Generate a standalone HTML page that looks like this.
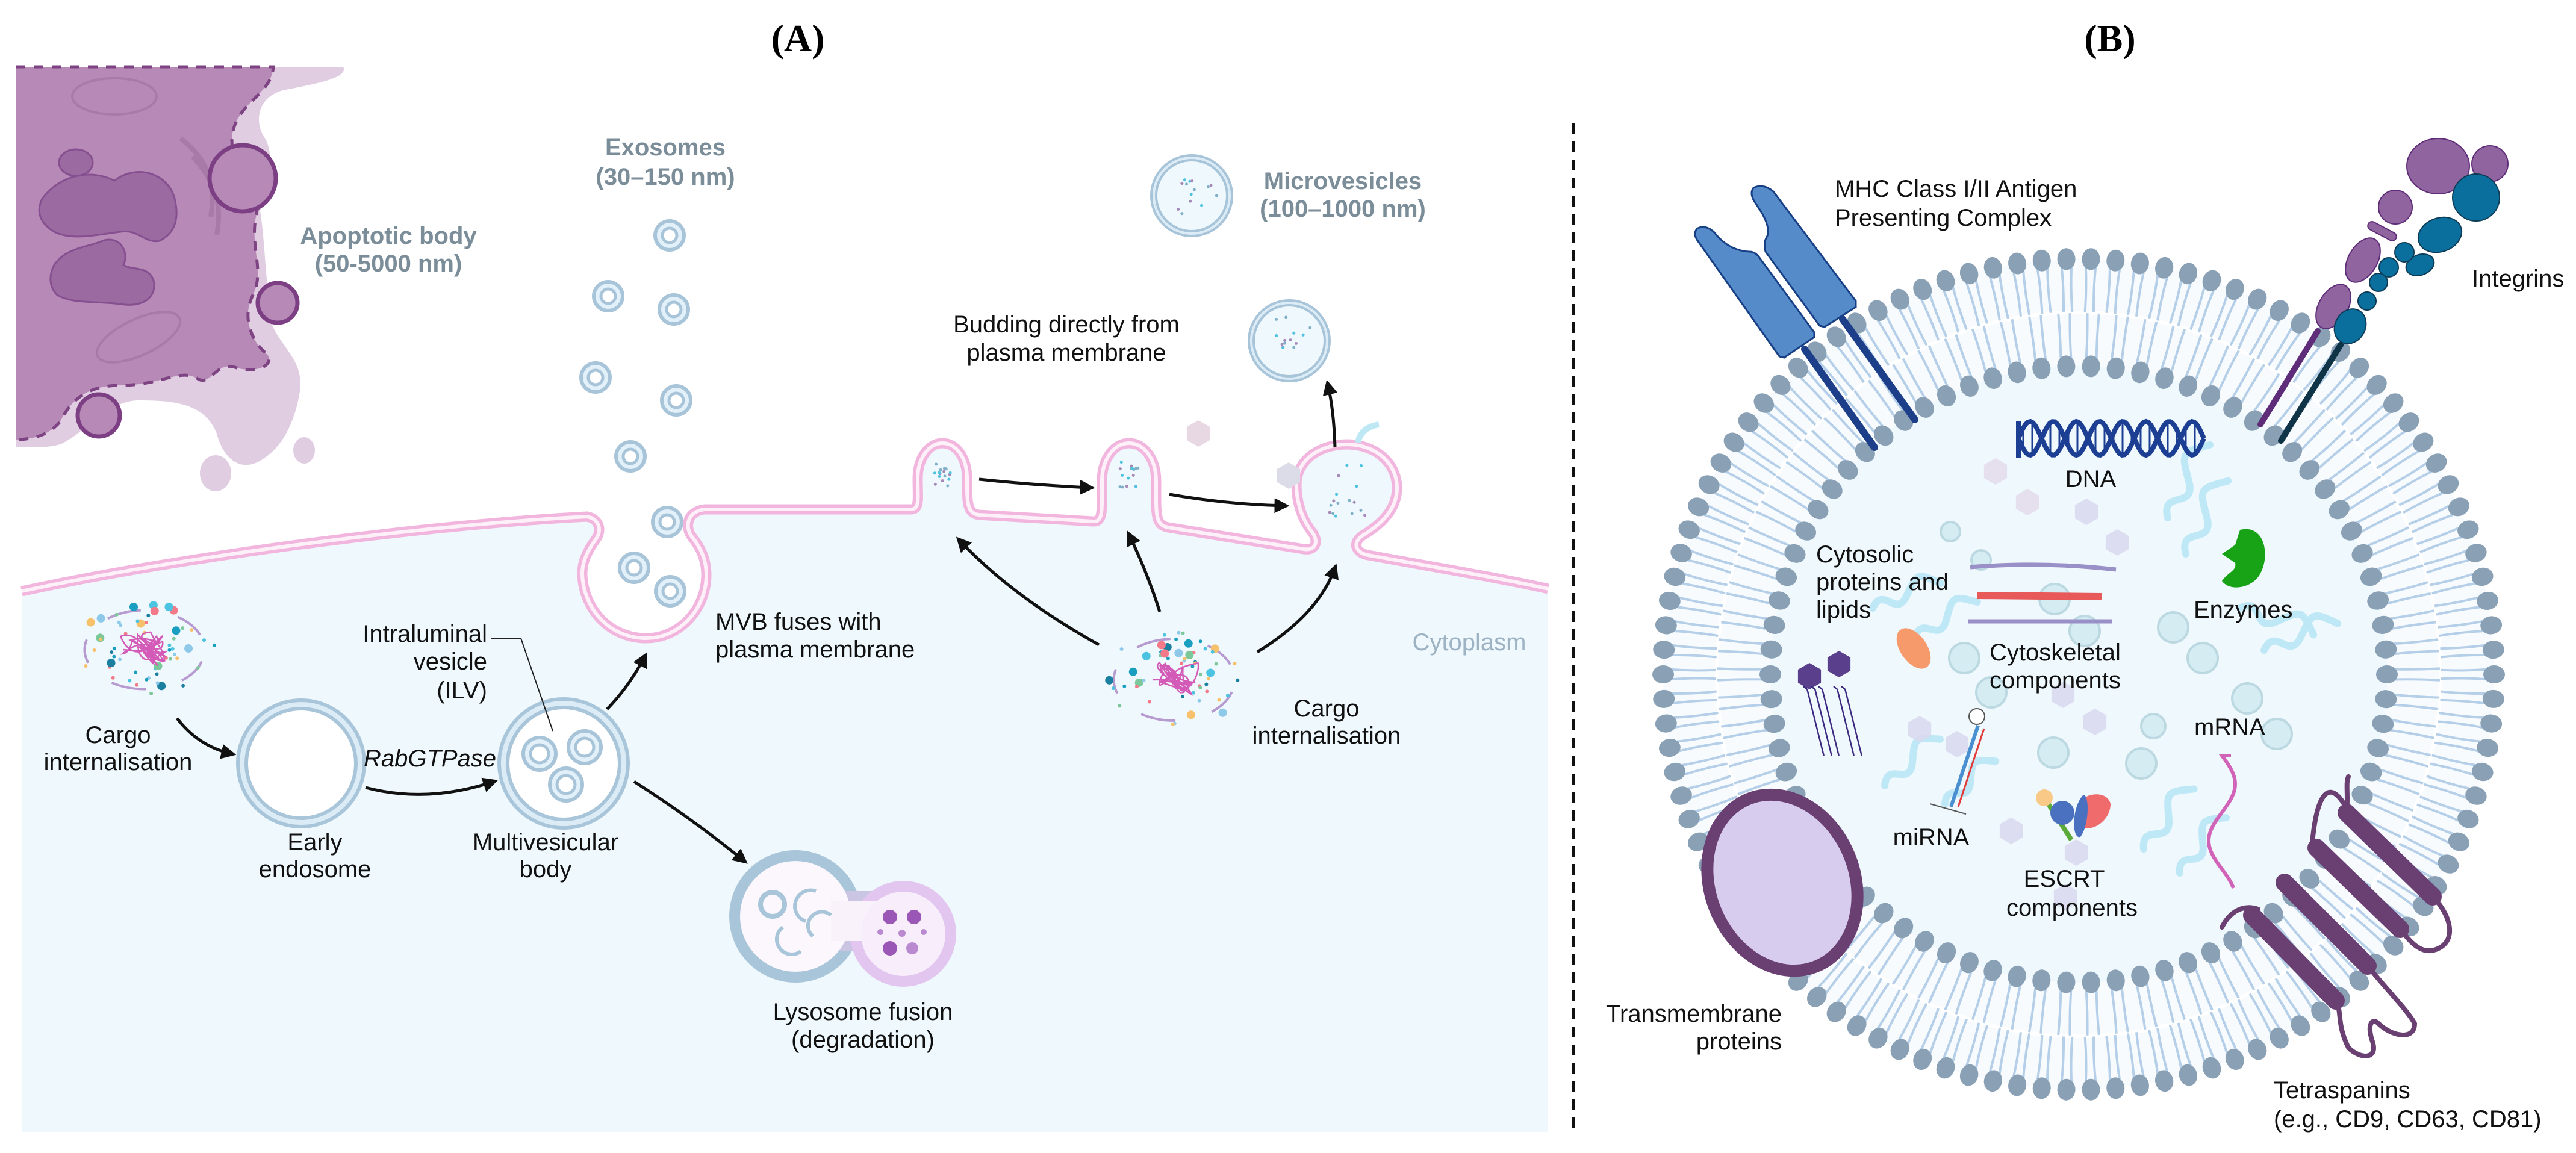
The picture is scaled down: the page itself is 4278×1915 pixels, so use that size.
<!DOCTYPE html>
<html><head><meta charset="utf-8">
<style>
html,body{margin:0;padding:0;background:#fff;}
svg{display:block;}
text{font-family:"Liberation Sans",Arial,sans-serif;}
</style></head>
<body>
<svg id="s" xmlns="http://www.w3.org/2000/svg" width="4278" height="1915" viewBox="0 0 4278 1915">
<defs>
<marker id="ah" viewBox="0 0 10 10" refX="7" refY="5" markerWidth="5" markerHeight="5" orient="auto" markerUnits="strokeWidth">
<path d="M0,0 L10,5 L0,10 Z" fill="#111"/></marker>
</defs>
<rect width="4278" height="1915" fill="#fff"/>
<text x="1325" y="85" font-weight="bold" font-size="64" text-anchor="middle" style="font-family:'Liberation Serif',serif">(A)</text>
<text x="3504" y="85" font-weight="bold" font-size="64" text-anchor="middle" style="font-family:'Liberation Serif',serif">(B)</text>
<line x1="2613" y1="205" x2="2613" y2="1885" stroke="#111" stroke-width="6" stroke-dasharray="18,12"/>

<!-- Apoptotic body -->
<path d="M26 111 L570 111 C580 130 520 140 470 150 C430 160 420 200 440 230 C460 260 440 330 432 350 C440 400 440 460 452 540 C470 580 505 600 498 650 C490 700 470 740 440 760 C400 790 370 760 360 720 C340 670 290 665 230 665 C180 665 140 720 100 738 C70 746 40 742 26 742 Z" fill="#e0cde2"/>
<ellipse cx="358" cy="786" rx="26" ry="30" fill="#e0cde2"/>
<ellipse cx="505" cy="748" rx="18" ry="22" fill="#e0cde2"/>
<path d="M26 111 L454 111 C450 160 390 170 385 230 C383 280 440 300 425 360 C415 410 440 450 420 490 C400 530 420 570 445 590 C455 610 420 620 390 610 C360 600 350 640 330 630 C300 610 270 640 200 640 C150 640 120 660 100 700 C80 725 50 730 26 730 Z" fill="#b689b6"/>
<path d="M26 111 L454 111 C450 160 390 170 385 230 C383 280 440 300 425 360 C415 410 440 450 420 490 C400 530 420 570 445 590 C455 610 420 620 390 610 C360 600 350 640 330 630 C300 610 270 640 200 640 C150 640 120 660 100 700 C80 725 50 730 26 730" fill="none" stroke="#7d4382" stroke-width="5" stroke-dasharray="16,14"/>
<path d="M70 330 C100 290 150 280 190 300 C230 270 280 290 290 330 C300 370 285 390 265 400 C240 405 230 380 200 385 C160 390 120 400 90 385 C65 370 60 350 70 330 Z" fill="#9a6aa0" stroke="#865090" stroke-width="3"/>
<path d="M90 440 C110 410 150 410 170 400 C200 390 215 420 205 440 C220 450 250 440 256 470 C258 500 230 510 200 505 C160 500 120 505 95 490 C80 475 82 455 90 440 Z" fill="#9a6aa0" stroke="#865090" stroke-width="3"/>
<ellipse cx="126" cy="270" rx="28" ry="22" fill="#9a6aa0" stroke="#865090" stroke-width="3"/>
<ellipse cx="190" cy="160" rx="70" ry="30" fill="none" stroke="#a77aa8" stroke-width="4"/>
<ellipse cx="230" cy="560" rx="75" ry="30" transform="rotate(-25 230 560)" fill="none" stroke="#a77aa8" stroke-width="4"/>
<path d="M300 230 C340 260 360 300 350 360" fill="none" stroke="#a77aa8" stroke-width="8"/>
<path d="M320 260 C355 300 370 330 360 390" fill="none" stroke="#a77aa8" stroke-width="8"/>
<circle cx="403" cy="296" r="55" fill="#b689b6" stroke="#7d3f83" stroke-width="7"/>
<circle cx="461" cy="503" r="33" fill="#b689b6" stroke="#7d3f83" stroke-width="7"/>
<circle cx="164" cy="690" r="35" fill="#b689b6" stroke="#7d3f83" stroke-width="7"/>

<!-- Cytoplasm -->
<path d="M36 982 C300 925 700 872 975 858 C995 862 1000 880 990 895 C975 915 966 935 967 955 C970 1015 1015 1060 1073 1060 C1130 1060 1173 1010 1173 955 C1173 925 1160 905 1148 890 C1138 875 1140 850 1170 846 L1512 846 C1528 846 1524 830 1524 795 C1524 760 1543 736 1565 736 C1588 736 1606 760 1606 795 C1606 835 1606 852 1625 855 L1815 866 C1832 867 1830 850 1830 800 C1830 762 1850 736 1875 736 C1900 736 1920 762 1920 800 C1920 855 1918 872 1940 876 L2165 912 C2185 915 2190 900 2180 885 C2160 860 2153 830 2153 805 C2153 765 2190 738 2237 738 C2285 738 2320 770 2320 810 C2320 845 2295 870 2265 888 C2245 900 2250 918 2272 922 C2400 945 2500 962 2571 978 L2571 1880 L36 1880 Z" fill="#eef8fd"/>
<path d="M36 982 C300 925 700 872 975 858 C995 862 1000 880 990 895 C975 915 966 935 967 955 C970 1015 1015 1060 1073 1060 C1130 1060 1173 1010 1173 955 C1173 925 1160 905 1148 890 C1138 875 1140 850 1170 846 L1512 846 C1528 846 1524 830 1524 795 C1524 760 1543 736 1565 736 C1588 736 1606 760 1606 795 C1606 835 1606 852 1625 855 L1815 866 C1832 867 1830 850 1830 800 C1830 762 1850 736 1875 736 C1900 736 1920 762 1920 800 C1920 855 1918 872 1940 876 L2165 912 C2185 915 2190 900 2180 885 C2160 860 2153 830 2153 805 C2153 765 2190 738 2237 738 C2285 738 2320 770 2320 810 C2320 845 2295 870 2265 888 C2245 900 2250 918 2272 922 C2400 945 2500 962 2571 978" fill="none" stroke="#f2b6de" stroke-width="17"/>
<path d="M36 982 C300 925 700 872 975 858 C995 862 1000 880 990 895 C975 915 966 935 967 955 C970 1015 1015 1060 1073 1060 C1130 1060 1173 1010 1173 955 C1173 925 1160 905 1148 890 C1138 875 1140 850 1170 846 L1512 846 C1528 846 1524 830 1524 795 C1524 760 1543 736 1565 736 C1588 736 1606 760 1606 795 C1606 835 1606 852 1625 855 L1815 866 C1832 867 1830 850 1830 800 C1830 762 1850 736 1875 736 C1900 736 1920 762 1920 800 C1920 855 1918 872 1940 876 L2165 912 C2185 915 2190 900 2180 885 C2160 860 2153 830 2153 805 C2153 765 2190 738 2237 738 C2285 738 2320 770 2320 810 C2320 845 2295 870 2265 888 C2245 900 2250 918 2272 922 C2400 945 2500 962 2571 978" fill="none" stroke="#fdf0f8" stroke-width="6"/>

<!-- Early endosome -->
<circle cx="500" cy="1268" r="98" fill="#fff" stroke="#a9c5da" stroke-width="20"/>
<circle cx="500" cy="1268" r="98" fill="none" stroke="#dcecf7" stroke-width="8"/>
<!-- MVB -->
<circle cx="936" cy="1268" r="100" fill="#fff" stroke="#a9c5da" stroke-width="20"/>
<circle cx="936" cy="1268" r="100" fill="none" stroke="#dcecf7" stroke-width="8"/>

<g id="gen"></g>

<!-- Lysosome -->
<circle cx="1321" cy="1522" r="110" fill="#a9c5da"/>
<rect x="1370" y="1480" width="120" height="100" fill="#c9c5e2"/>
<circle cx="1500" cy="1551" r="88" fill="#e2c6ef"/>
<circle cx="1321" cy="1522" r="92" fill="#fbf7fd"/>
<rect x="1380" y="1497" width="110" height="66" fill="#f9f2fb"/>
<circle cx="1500" cy="1551" r="70" fill="#f8eefb"/>
<circle cx="1283" cy="1502" r="20" fill="none" stroke="#a9c5da" stroke-width="8"/>
<path d="M1355 1480 A22 22 0 1 0 1338 1530" fill="none" stroke="#a9c5da" stroke-width="6"/>
<path d="M1300 1540 A25 25 0 1 0 1330 1580" fill="none" stroke="#a9c5da" stroke-width="6"/>
<path d="M1380 1520 A20 20 0 0 0 1350 1555" fill="none" stroke="#a9c5da" stroke-width="6"/>
<circle cx="1478" cy="1523" r="12" fill="#9b57b5"/><circle cx="1518" cy="1523" r="12" fill="#9b57b5"/>
<circle cx="1478" cy="1575" r="12" fill="#9b57b5"/><circle cx="1515" cy="1575" r="10" fill="#b98ad0"/>
<circle cx="1498" cy="1550" r="6" fill="#b98ad0"/><circle cx="1462" cy="1548" r="5" fill="#b98ad0"/><circle cx="1534" cy="1548" r="5" fill="#b98ad0"/>

<!-- Arrows panel A -->
<g fill="none" stroke="#111" stroke-width="5" marker-end="url(#ah)">
<path d="M294 1193 Q330 1240 385 1252"/>
<path d="M607 1308 Q710 1335 820 1298"/>
<path d="M1008 1178 Q1045 1140 1071 1090"/>
<path d="M1053 1298 Q1150 1360 1236 1430"/>
<path d="M1626 796 Q1720 806 1811 810"/>
<path d="M1942 821 Q2040 838 2134 840"/>
<path d="M2217 742 Q2215 680 2205 638"/>
<path d="M1825 1071 Q1680 990 1593 897"/>
<path d="M1926 1016 Q1905 950 1875 888"/>
<path d="M2088 1083 Q2190 1020 2217 943"/>
</g>
<polyline points="816,1060 865,1060 918,1214" fill="none" stroke="#222" stroke-width="2"/>

<!-- Panel A texts -->
<g font-size="40" fill="#111">
<text x="196" y="1234" text-anchor="middle">Cargo</text>
<text x="196" y="1279" text-anchor="middle">internalisation</text>
<text x="523" y="1412" text-anchor="middle">Early</text>
<text x="523" y="1457" text-anchor="middle">endosome</text>
<text x="906" y="1412" text-anchor="middle">Multivesicular</text>
<text x="906" y="1457" text-anchor="middle">body</text>
<text x="714" y="1273" text-anchor="middle" font-style="italic">RabGTPase</text>
<text x="809" y="1066" text-anchor="end">Intraluminal</text>
<text x="809" y="1112" text-anchor="end">vesicle</text>
<text x="809" y="1160" text-anchor="end">(ILV)</text>
<text x="1188" y="1046">MVB fuses with</text>
<text x="1188" y="1092">plasma membrane</text>
<text x="1433" y="1694" text-anchor="middle">Lysosome fusion</text>
<text x="1433" y="1740" text-anchor="middle">(degradation)</text>
<text x="1771" y="552" text-anchor="middle">Budding directly from</text>
<text x="1771" y="599" text-anchor="middle">plasma membrane</text>
<text x="2203" y="1190" text-anchor="middle">Cargo</text>
<text x="2203" y="1235" text-anchor="middle">internalisation</text>
<text x="2440" y="1080" text-anchor="middle" fill="#9db3c4">Cytoplasm</text>
</g>
<g font-size="40" fill="#7a8d99" font-weight="bold" text-anchor="middle">
<text x="645" y="405">Apoptotic body</text>
<text x="645" y="451">(50-5000 nm)</text>
<text x="1105" y="258">Exosomes</text>
<text x="1105" y="307">(30–150 nm)</text>
<text x="2230" y="314">Microvesicles</text>
<text x="2230" y="360">(100–1000 nm)</text>
</g>

<!-- Panel B -->
<g id="ves"></g>
<g id="vesin"></g>

<!-- MHC -->
<line x1="2997" y1="580" x2="3113" y2="743" stroke="#1d3f8a" stroke-width="12" stroke-linecap="round"/>
<line x1="3060" y1="530" x2="3180" y2="697" stroke="#1d3f8a" stroke-width="12" stroke-linecap="round"/>
<path d="M2818 380 Q2832 372 2847 386 Q2870 416 2905 418 Q2915 418 2922 428 L3013 552 L3013 560 L2963 594 L2955 592 L2818 398 Q2812 388 2818 380 Z" fill="#568bc9" stroke="#173f85" stroke-width="3"/>
<path d="M2912 312 Q2928 304 2945 318 L3082 500 L3082 510 L3030 543 L3022 541 L2932 418 Q2928 402 2935 392 Q2940 378 2925 352 L2912 332 Q2906 320 2912 312 Z" fill="#568bc9" stroke="#173f85" stroke-width="3"/>

<!-- Integrins -->
<line x1="3849" y1="550" x2="3754" y2="705" stroke="#5e2c78" stroke-width="10" stroke-linecap="round"/>
<line x1="3887" y1="573" x2="3788" y2="732" stroke="#0f3347" stroke-width="10" stroke-linecap="round"/>
<g stroke="#5e2c78" stroke-width="2" fill="#8f649f">
<ellipse cx="4049" cy="276" rx="52" ry="46"/>
<circle cx="4135" cy="272" r="30"/>
<circle cx="3978" cy="344" r="28"/>
<rect x="3930" y="377" width="52" height="14" rx="7" transform="rotate(28 3956 384)"/>
<ellipse cx="3924" cy="432" rx="24" ry="40" transform="rotate(30 3924 432)"/>
<ellipse cx="3875" cy="509" rx="24" ry="40" transform="rotate(30 3875 509)"/>
</g>
<g stroke="#0d3b55" stroke-width="2" fill="#0b6f9e">
<circle cx="4112" cy="328" r="39"/>
<ellipse cx="4052" cy="390" rx="37" ry="28" transform="rotate(-20 4052 390)"/>
<ellipse cx="4019" cy="440" rx="24" ry="17" transform="rotate(-20 4019 440)"/>
<circle cx="3993" cy="419" r="16"/><circle cx="3967" cy="444" r="16"/><circle cx="3950" cy="469" r="15"/><circle cx="3931" cy="500" r="15"/>
<ellipse cx="3903" cy="542" rx="25" ry="30" transform="rotate(30 3903 542)"/>
</g>

<!-- Transmembrane -->
<ellipse cx="2960" cy="1466" rx="120" ry="150" transform="rotate(-22 2960 1466)" fill="#d8ccee" stroke="#6a4073" stroke-width="20"/>

<!-- Tetraspanins -->
<g fill="none" stroke="#6a4073" stroke-width="8" stroke-linecap="round">
<path d="M3750 1510 C3720 1500 3700 1520 3690 1540"/>
<path d="M3905 1360 C3880 1300 3850 1290 3840 1400"/>
<path d="M4040 1489 C4070 1520 4080 1560 4050 1575 C4020 1590 4000 1560 3986 1543"/>
<path d="M3932 1604 C3960 1640 4000 1680 4010 1700 C4010 1730 3970 1720 3950 1700 C3940 1690 3930 1700 3940 1730 C3950 1760 3920 1760 3900 1740 C3880 1700 3890 1680 3879 1662"/>
<path d="M3897 1350 C3900 1320 3895 1300 3900 1290"/>
</g>
<g stroke="#6a4073" stroke-width="30" stroke-linecap="round">
<line x1="3897" y1="1350" x2="4040" y2="1489"/>
<line x1="3847" y1="1408" x2="3986" y2="1543"/>
<line x1="3794" y1="1466" x2="3932" y2="1604"/>
<line x1="3740" y1="1520" x2="3879" y2="1662"/>
</g>

<!-- Panel B texts -->
<g font-size="40" fill="#111">
<text x="3047" y="327">MHC Class I/II Antigen</text>
<text x="3047" y="375">Presenting Complex</text>
<text x="4105" y="476">Integrins</text>
<text x="3472" y="809" text-anchor="middle">DNA</text>
<text x="3016" y="934">Cytosolic</text>
<text x="3016" y="980">proteins and</text>
<text x="3016" y="1026">lipids</text>
<text x="3304" y="1097">Cytoskeletal</text>
<text x="3304" y="1143">components</text>
<text x="3643" y="1026">Enzymes</text>
<text x="3644" y="1221">mRNA</text>
<text x="3207" y="1404" text-anchor="middle">miRNA</text>
<text x="3428" y="1473" text-anchor="middle">ESCRT</text>
<text x="3441" y="1521" text-anchor="middle">components</text>
<text x="2959" y="1697" text-anchor="end">Transmembrane</text>
<text x="2959" y="1743" text-anchor="end">proteins</text>
<text x="3776" y="1824">Tetraspanins</text>
<text x="3776" y="1872">(e.g., CD9, CD63, CD81)</text>
</g>
</svg>
<script>
(function(){
var NS="http://www.w3.org/2000/svg";
function el(p,t,a){var e=document.createElementNS(NS,t);for(var k in a)e.setAttribute(k,a[k]);p.appendChild(e);return e;}
var seed=7;function rnd(){seed=(seed*16807)%2147483647;return (seed-1)/2147483646;}
var gen=document.getElementById('gen');
var ex=[[1112,391],[1010,492],[1119,514],[989,627],[1123,665],[1047,758],[1108,867],[1053,943],[1113,982]];
ex.forEach(function(p){el(gen,'circle',{cx:p[0],cy:p[1],r:24,fill:'#e2f0f9',stroke:'#a8c4d9','stroke-width':6});el(gen,'circle',{cx:p[0],cy:p[1],r:12,fill:'#fff',stroke:'#a8c4d9','stroke-width':5});});
[[896,1252],[971,1241],[940,1303]].forEach(function(p){el(gen,'circle',{cx:p[0],cy:p[1],r:27,fill:'#e2f0f9',stroke:'#a8c4d9','stroke-width':6});el(gen,'circle',{cx:p[0],cy:p[1],r:15,fill:'#fff',stroke:'#a8c4d9','stroke-width':5});});
function mv(x,y,r){el(gen,'circle',{cx:x,cy:y,r:r,fill:'#eef8fd',stroke:'#a8c4d9','stroke-width':12});el(gen,'circle',{cx:x,cy:y,r:r,fill:'none',stroke:'#dcecf7','stroke-width':4});
 for(var i=0;i<14;i++){var a=rnd()*6.28,d=rnd()*(r-18);el(gen,'circle',{cx:x+Math.cos(a)*d,cy:y+Math.sin(a)*d,r:2.5,fill:['#7fb0c8','#a58ab8','#4cc3e0'][i%3]});}}
mv(1979,325,63);mv(2141,566,63);
[[1565,790,30],[1875,790,30],[2237,815,60]].forEach(function(b){for(var i=0;i<16;i++){el(gen,'circle',{cx:b[0]+(rnd()-0.5)*b[2],cy:b[1]+(rnd()-0.5)*b[2]*1.5,r:2.5,fill:['#7fb0c8','#a58ab8','#4cc3e0'][i%3]});}});
function hex(g,x,y,r,f,op){var pts=[];for(var i=0;i<6;i++){var a=Math.PI/3*i+Math.PI/6;pts.push((x+r*Math.cos(a)).toFixed(1)+','+(y+r*Math.sin(a)).toFixed(1));}el(g,'polygon',{points:pts.join(' '),fill:f,opacity:op||1});}
hex(gen,1990,720,22,'#e8d8e4');hex(gen,2140,790,22,'#dcdbe8');
el(gen,'path',{d:'M2255 735 Q2260 710 2290 705',fill:'none',stroke:'#bfe8f5','stroke-width':10});
function cargo(cx,cy,rx,ry){
 for(var i=0;i<5;i++){var a=i*1.25+0.3;el(gen,'path',{d:'M'+(cx+Math.cos(a)*rx*0.85)+' '+(cy+Math.sin(a)*ry*0.85)+' A'+rx*0.85+' '+ry*0.85+' 0 0 1 '+(cx+Math.cos(a+0.6)*rx*0.85)+' '+(cy+Math.sin(a+0.6)*ry*0.85),fill:'none',stroke:'#b69ad0','stroke-width':4});}
 var cols=['#1a9fc0','#8ec9ea','#7cc89a','#f47a8a','#f7c06a','#4cc3e0','#1b7fa0'];
 for(var i=0;i<55;i++){var a=rnd()*6.28,d=0.35+rnd()*0.65;var c=cols[i%cols.length];el(gen,'circle',{cx:cx+Math.cos(a)*rx*d,cy:cy+Math.sin(a)*ry*d,r:(i%4==0?7:3),fill:c});}
 var d='M'+(cx-35)+' '+cy;for(var i=0;i<24;i++){d+=' Q'+(cx+(rnd()-0.5)*90)+' '+(cy+(rnd()-0.5)*70)+' '+(cx+(rnd()-0.5)*80)+' '+(cy+(rnd()-0.5)*60);}
 el(gen,'path',{d:d,fill:'none',stroke:'#d45ab8','stroke-width':2.5});
}
cargo(240,1079,117,77);cargo(1950,1129,118,80);

var ves=document.getElementById('ves');
var CX=3452,CY=1120,RO=690,RI=512;
el(ves,'circle',{cx:CX,cy:CY,r:RO,fill:'#f7fbfe'});
el(ves,'circle',{cx:CX,cy:CY,r:601,fill:'none',stroke:'#ffffff','stroke-width':6});
el(ves,'circle',{cx:CX,cy:CY,r:RI,fill:'#eef8fd'});
function ring(R,n,dir){
 for(var i=0;i<n;i++){var a=2*Math.PI*i/n;var c=Math.cos(a),s=Math.sin(a);
  for(var k=-1;k<=1;k+=2){var off=k*0.012*(690/R);var ca=Math.cos(a+off),sa=Math.sin(a+off);
   var r1=R+dir*14,r2=R+dir*88;var wob=(k*6);
   el(ves,'path',{d:'M'+(CX+ca*r1)+' '+(CY+sa*r1)+' Q'+(CX+Math.cos(a+off*1.5)*(R+dir*50)+wob*s)+' '+(CY+Math.sin(a+off*1.5)*(R+dir*50)-wob*c)+' '+(CX+ca*r2)+' '+(CY+sa*r2),fill:'none',stroke:'#b6cfe8','stroke-width':4});}
  el(ves,'ellipse',{cx:CX+c*R,cy:CY+s*R,rx:18,ry:15,fill:'#8aa0b5',transform:'rotate('+(a*180/Math.PI)+' '+(CX+c*R)+' '+(CY+s*R)+')'});
 }
}
ring(RO,106,-1);ring(RI,78,1);

var vi=document.getElementById('vesin');
function wave(x,y,l,rot){el(vi,'path',{d:'M'+x+' '+y+' c'+l*0.25+' '+(-l*0.25)+' '+l*0.25+' '+l*0.25+' '+l*0.5+' 0 s'+l*0.25+' '+(-l*0.25)+' '+l*0.5+' 0',fill:'none',stroke:'#bfe8f6','stroke-width':12,'stroke-linecap':'round',transform:'rotate('+rot+' '+x+' '+y+')'});}
wave(3600,860,140,-60);wave(3630,920,140,-60);wave(3110,1010,120,-20);wave(3180,1060,120,-30);wave(3720,1010,130,20);wave(3760,1080,130,-20);wave(3130,1305,120,-40);wave(3230,1335,110,-40);wave(3560,1410,130,-50);wave(3620,1450,120,-50);
[[3314,783],[3367,834],[3465,850],[3516,901],[3188,1211],[3479,1199],[3426,1154],[3250,1236],[3340,1380],[3430,1490],[3448,1416]].forEach(function(p,i){hex(vi,p[0],p[1],22,i<2?'#e3dcec':'#d9d9ee',0.9);});
[[3239,883,16],[3290,930,16],[3412,995,25],[3462,1048,25],[3262,1093,25],[3609,1042,25],[3658,1093,25],[3732,1160,25],[3781,1219,25],[3556,1268,25],[3307,1150,25],[3410,1250,25],[3576,1206,20]].forEach(function(p){el(vi,'circle',{cx:p[0],cy:p[1],r:p[2],fill:'#d4ecf2',stroke:'#bcd9e2','stroke-width':4});});
var d1='M3352 700',d2='M3352 760';for(var x=3352;x<=3660;x+=4){var t=(x-3352)/77*2*Math.PI;d1+=' L'+x+' '+(728+28*Math.sin(t));d2+=' L'+x+' '+(728-28*Math.sin(t));}
el(vi,'path',{d:d1,fill:'none',stroke:'#1c3f94','stroke-width':8});el(vi,'path',{d:d2,fill:'none',stroke:'#1c3f94','stroke-width':8});
for(var x=3360;x<3655;x+=15){var t=(x-3352)/77*2*Math.PI;el(vi,'line',{x1:x,y1:728+26*Math.sin(t),x2:x,y2:728-26*Math.sin(t),stroke:'#1c3f94','stroke-width':3});}
el(vi,'path',{d:'M3272 942 Q3390 932 3514 946',fill:'none',stroke:'#9a90c8','stroke-width':7});
el(vi,'path',{d:'M3283 989 L3490 991',fill:'none',stroke:'#e85a5a','stroke-width':12});
el(vi,'path',{d:'M3268 1032 L3507 1032',fill:'none',stroke:'#9a90c8','stroke-width':7});
el(vi,'path',{d:'M3720 880 C3760 870 3770 920 3755 950 C3745 975 3705 985 3690 965 C3700 950 3715 948 3712 935 L3690 920 L3712 905 Z',fill:'#17a315'});
el(vi,'ellipse',{cx:3178,cy:1077,rx:22,ry:38,transform:'rotate(-35 3178 1077)',fill:'#f79a6b'});
hex(vi,3005,1123,22,'#5a3f8c');hex(vi,3054,1103,22,'#5a3f8c');
[2995,3008,3020,3045,3058].forEach(function(x,i){var dd='M'+x+' 1140';for(var y=1145;y<1260;y+=10){dd+=' L'+(x+(y-1140)*0.25+((y/10)%2?5:-5))+' '+y;}el(vi,'path',{d:dd,fill:'none',stroke:'#3d2a80','stroke-width':2.5});});
el(vi,'line',{x1:3285,y1:1205,x2:3240,y2:1340,stroke:'#4a8fd0','stroke-width':6});
el(vi,'line',{x1:3295,y1:1210,x2:3252,y2:1340,stroke:'#e23b3b','stroke-width':3});
el(vi,'circle',{cx:3283,cy:1190,r:13,fill:'#fff',stroke:'#555','stroke-width':2});
el(vi,'line',{x1:3205,y1:1335,x2:3265,y2:1352,stroke:'#555','stroke-width':2});
el(vi,'path',{d:'M3395 1325 L3440 1395',stroke:'#5caa3a','stroke-width':8,fill:'none'});
el(vi,'circle',{cx:3395,cy:1325,r:14,fill:'#f8c987'});
el(vi,'circle',{cx:3425,cy:1350,r:20,fill:'#4a70c0'});
el(vi,'path',{d:'M3455 1330 C3470 1315 3500 1315 3505 1335 C3505 1360 3480 1380 3460 1375 Z',fill:'#f06b6b'});
el(vi,'path',{d:'M3460 1320 C3470 1320 3470 1370 3455 1390 C3440 1395 3440 1340 3460 1320 Z',fill:'#4a70c0'});
var dm='M3705 1255';for(var y=1255;y<=1475;y+=5){dm+=' L'+(3690+22*Math.sin((y-1255)/30))+' '+y;}
el(vi,'path',{d:dm,fill:'none',stroke:'#d164b8','stroke-width':6});
})();
</script>
</body></html>
